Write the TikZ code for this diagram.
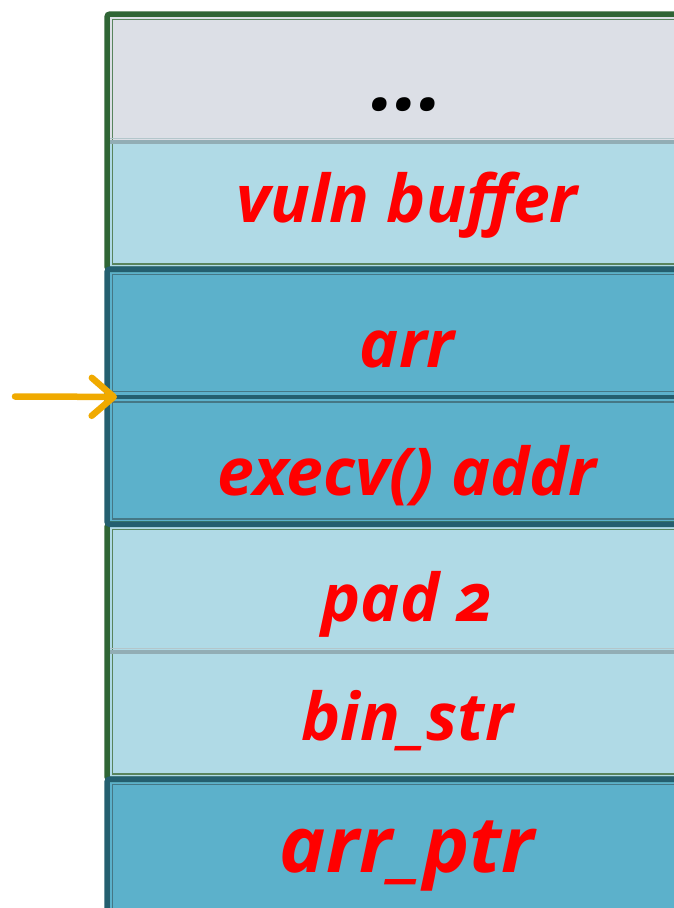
\documentclass[tikz,border=0pt]{standalone}
\usepackage{fontspec}
\setmainfont{Open Sans}[Numbers=OldStyle]
\usetikzlibrary{arrows.meta}
\definecolor{slotgray}{HTML}{DCDFE6}
\definecolor{slotlight}{HTML}{B0DAE6}
\definecolor{slotteal}{HTML}{5CB1CB}
\definecolor{edgegreen}{HTML}{2F6535}
\definecolor{edgeteal}{HTML}{245F6F}
\definecolor{sepgray}{HTML}{92ADB5}
\definecolor{pointer}{HTML}{F0AA00}
\tikzset{
  slot/.style={rectangle, inner sep=0pt, anchor=north west,
    minimum width=600pt, minimum height=127.5pt,
    text=red, font=\bfseries\itshape\fontsize{66}{72}\selectfont,
    text height=60pt, text depth=0pt},
  outergreen/.style={draw=edgegreen, line width=5.5pt, rounded corners=3pt},
  innergreen/.style={draw=edgegreen!80!white, line width=1.2pt},
  outerteal/.style={draw=edgeteal, line width=5.5pt, rounded corners=3pt},
  innerteal/.style={draw=edgeteal!85!white, line width=1.2pt},
  sepline/.style={draw=sepgray, line width=4pt},
  pointerarrow/.style={draw=pointer, line width=6.5pt, line cap=round, line join=round,
    -{Straight Barb[length=22pt, width=38pt, line cap=round, line join=round]}}
}
\begin{document}
\begin{tikzpicture}[x=1pt, y=-1pt]
\useasboundingbox (0,0) rectangle (674,908);
\begin{scope}
\clip (0,0) rectangle (674,908);
% stack slots, top to bottom
\node[slot, fill=slotgray, text=black, text height=66pt,
      font=\bfseries\itshape\fontsize{84}{90}\selectfont] (dots) at (107,14) {...};
\node[slot, fill=slotlight, text height=34pt] (vuln)  at (107,141.5) {vuln buffer};
\node[slot, fill=slotteal, text height=70pt]  (arr)   at (107,269)   {arr};
\node[slot, fill=slotteal, text height=70pt]  (execv) at (107,396.5) {execv() addr};
\node[slot, fill=slotlight, text height=68pt] (pad)   at (107,524)   {pad 2};
\node[slot, fill=slotlight, text height=50pt] (bin)   at (107,651.5) {bin\_str};
\node[slot, fill=slotteal, minimum height=140pt, text height=46pt,
      font=\bfseries\itshape\fontsize{78}{84}\selectfont] (aptr) at (107,779) {arr\_ptr};

% frame of the upper light pair
\draw[innergreen] ([shift={(5.5,5.5)}]dots.north west) rectangle ([shift={(-5.5,-5.5)}]vuln.south east);
\draw[sepline] (dots.south west) -- (dots.south east);
\draw[draw=sepgray!70!white, line width=1pt] ([yshift=3.5]dots.south west) -- ([yshift=3.5]dots.south east);
\draw[outergreen] (dots.north west) rectangle (vuln.south east);

% frame of the lower light pair
\draw[innergreen] ([shift={(5.5,5.5)}]pad.north west) rectangle ([shift={(-5.5,-5.5)}]bin.south east);
\draw[sepline] (pad.south west) -- (pad.south east);
\draw[draw=sepgray!70!white, line width=1pt] ([yshift=3.5]pad.south west) -- ([yshift=3.5]pad.south east);
\draw[outergreen] (pad.north west) rectangle (bin.south east);

% frames of the teal slots
\foreach \s in {arr, execv, aptr}
  \draw[innerteal] ([shift={(5.5,5.5)}]\s.north west) rectangle ([shift={(-5.5,-5.5)}]\s.south east);
\draw[outerteal] (arr.north west) rectangle (execv.south east);
\draw[draw=edgeteal, line width=4.5pt] (arr.south west) -- (arr.south east);
\draw[outerteal] (aptr.north west) rectangle (aptr.south east);
\end{scope}

% pointer into the stack
\coordinate (tail) at (15,396.5);
\draw[pointerarrow] (tail) -- ([xshift=10pt]arr.south west);
\end{tikzpicture}
\end{document}
